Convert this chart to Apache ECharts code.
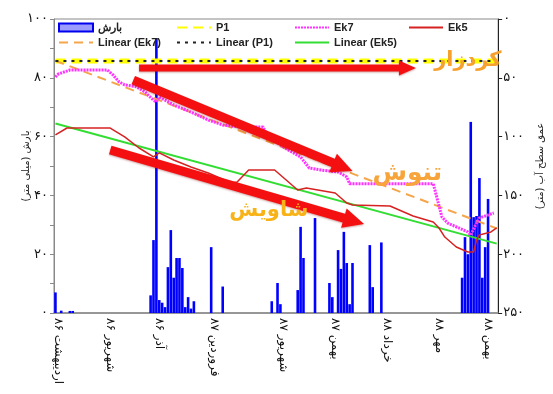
<!DOCTYPE html>
<html><head><meta charset="utf-8">
<script src="https://cdn.jsdelivr.net/npm/echarts@6/dist/echarts.min.js"></script>
<style>html,body{margin:0;padding:0;background:#fff}#c{width:553px;height:394px}</style>
</head><body><div id="c"></div>
<script>
// ---- data (weekly index on x) ----
const N_WEEKS = 154;
const xLabelWeek = [1, 19, 36, 55, 79, 97, 115, 133, 150];
const xLabelText = ['اردیبهشت ۸۶','شهریور ۸۶','آذر ۸۶','فروردین ۸۷','شهریور ۸۷','بهمن ۸۷','خرداد ۸۸','مهر ۸۸','بهمن ۸۸'];

const rainWeek = [0,2,5,6,33,34,35,36,37,38,39,40,41,42,43,44,45,46,47,48,54,58,75,77,78,84,85,86,90,95,96,98,99,100,101,102,103,109,110,113,141,142,143,144,145,146,147,148,149,150];
const rainMm   = [7,0.8,0.7,0.7,6,24.8,93.5,4.4,3.5,2,15.6,28.2,12,18.7,18.7,15.3,2,5.4,1.5,4,22.4,9,4,10.2,3,7.8,29.3,18.7,32.3,10.2,5.4,21.4,15,27.6,17,3,17,23.1,8.8,24,12,25.8,20,65,32.6,33,45.9,12,22.4,38.8];

const ek7Week  = [0,1,5,18,20,22,24,28,31,34,35,36,41,47,53,58,64,72,73,79,85,88,92,98,101,102,131,134,136,143,144,146,147,152];
const ek7Depth = [49.3,46.8,43.4,43.4,47.6,53.3,56,57.6,62,69,70.6,66.3,73.1,79.1,85.9,90.1,91.8,91.8,96.9,108.8,117.3,126.7,128.4,130.1,134.3,140,140,168.4,173.5,181.1,183.7,173.5,169.2,165];

const ek5Week  = [0,4,19,24,29,34,36,41,47,53,61,63,67,76,84,87,97,101,103,116,124,131,133,135,139,143,145,146,147,151,153];
const ek5Depth = [98.6,92.7,92.7,100.3,109.7,117.3,113.9,119.9,125.8,131,139.4,138.6,128.4,128.4,145.4,143.7,148,156.5,158.2,159,167.5,172.6,177.7,185.4,193.9,198.1,198.1,187.9,183.7,181.1,177.7];

const p1Week = [0, 153];
const p1Depth = [35.7, 35.7];
const linP1Week = [0, 153];
const linP1Depth = [35.7, 35.7];
const linEk7Week = [0, 153];
const linEk7Depth = [35.5, 178.1];
const linEk5Week = [0, 153];
const linEk5Depth = [88.8, 191];

// annotations (data units: week, depth)
const arrowFrom = [[29, 41.7], [27, 51.9], [19, 111.4]];
const arrowTo   = [[125, 41.7], [103, 129.2], [107, 174.3]];
const noteText = ['کردزار', 'تنوش', 'شاویش'];
const notePos  = [[143, 35], [122, 131], [74, 163]];

// ---- helpers ----
const zip = (a, b) => a.map((v, i) => [v, b[i]]);
const fa = v => String(v).replace(/\d/g, d => '۰۱۲۳۴۵۶۷۸۹'[d]);
const categories = Array.from({length: N_WEEKS}, (_, i) => String(i));
const labelMap = {};
xLabelWeek.forEach((w, i) => labelMap[w] = xLabelText[i]);

const chart = echarts.init(document.getElementById('c'), null, {renderer: 'canvas'});
const legendText = {fontFamily: 'Liberation Sans', fontWeight: 'bold', fontSize: 11, color: '#222'};
const legendBase = {orient: 'vertical', top: 22, itemWidth: 34, itemHeight: 8, itemGap: 4, textStyle: legendText, padding: 0,
  itemStyle: {opacity: 0}};
const lineItem = n => ({name: n, itemStyle: {opacity: 0}});

const option = {
  animation: false,
  backgroundColor: '#fff',
  grid: {left: 54, right: 38, top: 19, bottom: 81, show: true, borderColor: '#888', borderWidth: 1},
  legend: [
    Object.assign({}, legendBase, {left: 58, data: [{name: 'بارش', icon: 'rect', itemStyle: {opacity: 1, color: '#9c9cff', borderColor: '#0000ee', borderWidth: 2}}, lineItem('Linear (Ek7)')]}),
    Object.assign({}, legendBase, {left: 176, data: [lineItem('P1'), lineItem('Linear (P1)')]}),
    Object.assign({}, legendBase, {left: 294, data: [lineItem('Ek7'), lineItem('Linear (Ek5)')]}),
    Object.assign({}, legendBase, {left: 408, data: [lineItem('Ek5')]})
  ],
  xAxis: {
    type: 'category', data: categories, boundaryGap: true,
    axisLine: {lineStyle: {color: '#888', width: 1.5}},
    axisTick: {show: false},
    axisLabel: {interval: 0, rotate: -90, margin: 5, fontSize: 12, fontFamily: 'DejaVu Sans', color: '#111',
      formatter: (v, i) => labelMap[i] || ''}
  },
  yAxis: [
    {type: 'value', min: 0, max: 100, interval: 20, position: 'left',
     name: 'بارش (میلی متر)', nameLocation: 'middle', nameRotate: 90, nameGap: 23, nameMoveOverlap: false,
     nameTextStyle: {fontSize: 10, fontFamily: 'DejaVu Sans', color: '#222'},
     axisLine: {show: true, lineStyle: {color: '#888'}},
     axisTick: {show: true, length: 4, lineStyle: {color: '#888'}},
     minorTick: {show: true, splitNumber: 2, length: 4, lineStyle: {color: '#888'}},
     splitLine: {show: false},
     axisLabel: {fontSize: 13, fontFamily: 'DejaVu Sans', color: '#111', margin: 6, formatter: v => fa(v)}},
    {type: 'value', min: 0, max: 250, interval: 50, inverse: true, position: 'right',
     name: 'عمق سطح آب (متر)', nameLocation: 'middle', nameRotate: 90, nameGap: 30,
     nameTextStyle: {fontSize: 10, fontFamily: 'DejaVu Sans', color: '#222'},
     axisLine: {show: true, lineStyle: {color: '#222'}},
     axisTick: {show: true, length: 4, lineStyle: {color: '#222'}},
     splitLine: {show: false},
     axisLabel: {fontSize: 13, fontFamily: 'DejaVu Sans', color: '#111', margin: 5, formatter: v => fa(v)}}
  ],
  series: [
    {name: 'بارش', type: 'bar', yAxisIndex: 0, data: zip(rainWeek, rainMm), barWidth: '90%', barGap: '-100%',
     itemStyle: {color: '#0000ff'}, z: 2},
    {name: 'P1', type: 'line', yAxisIndex: 1, data: zip(p1Week, p1Depth), symbol: 'none',
     lineStyle: {color: '#ffff00', width: 5, type: [10, 6]}, itemStyle: {color: '#ffff00'}, z: 3},
    {name: 'Linear (P1)', type: 'line', yAxisIndex: 1, data: zip(linP1Week, linP1Depth), symbol: 'none',
     lineStyle: {color: '#222', width: 2, type: [3, 5]}, itemStyle: {color: '#222'}, z: 4},
    {name: 'Linear (Ek7)', type: 'line', yAxisIndex: 1, data: zip(linEk7Week, linEk7Depth), symbol: 'none',
     lineStyle: {color: '#f5a54a', width: 2, type: [9, 6]}, itemStyle: {color: '#f5a54a'}, z: 3},
    {name: 'Ek7', type: 'line', yAxisIndex: 1, data: zip(ek7Week, ek7Depth), symbol: 'none',
     lineStyle: {color: '#ff33ff', width: 3, type: [2, 1]}, itemStyle: {color: '#ff33ff'}, z: 4},
    {name: 'Linear (Ek5)', type: 'line', yAxisIndex: 1, data: zip(linEk5Week, linEk5Depth), symbol: 'none',
     lineStyle: {color: '#33dd33', width: 2}, itemStyle: {color: '#33dd33'}, z: 3},
    {name: 'Ek5', type: 'line', yAxisIndex: 1, data: zip(ek5Week, ek5Depth), symbol: 'none',
     lineStyle: {color: '#d62222', width: 1.5}, itemStyle: {color: '#d62222'}, z: 4}
  ]
};
chart.setOption(option);

// ---- annotations anchored through the axes ----
function arrowPts(a, b, sw, hw, hl) {
  const dx = b[0] - a[0], dy = b[1] - a[1];
  const L = Math.hypot(dx, dy), ux = dx / L, uy = dy / L, nx = -uy, ny = ux;
  const bx = b[0] - ux * hl, by = b[1] - uy * hl;
  return [[a[0] + nx * sw, a[1] + ny * sw], [bx + nx * sw, by + ny * sw], [bx + nx * hw, by + ny * hw], b,
          [bx - nx * hw, by - ny * hw], [bx - nx * sw, by - ny * sw], [a[0] - nx * sw, a[1] - ny * sw]];
}
const toPx = p => chart.convertToPixel({xAxisIndex: 0, yAxisIndex: 1}, p);
const graphics = [];
const arrowSize = [[3.5, 7.5, 17], [4.5, 10, 21], [4.5, 10, 21]];
arrowFrom.forEach((f, i) => {
  const a = toPx(f), b = toPx(arrowTo[i]);
  const s = arrowSize[i];
  graphics.push({type: 'polygon', z: 100, shape: {points: arrowPts(a, b, s[0], s[1], s[2])},
    style: {fill: '#f41010', shadowBlur: 2, shadowColor: 'rgba(120,0,0,0.35)', shadowOffsetY: 1}});
});
const noteFont = ['bold 21px "DejaVu Sans"', 'bold 25px "DejaVu Sans"', 'bold 21px "DejaVu Sans"'];
const noteFill = ['#f6a12e', '#f7a43a', '#f7b318'];
noteText.forEach((t, i) => {
  const p = toPx(notePos[i]);
  graphics.push({type: 'text', z: 101, x: p[0], y: p[1],
    style: {text: t, font: noteFont[i], fill: noteFill[i], align: 'center', verticalAlign: 'middle',
      shadowBlur: 2, shadowColor: 'rgba(160,80,0,0.35)', shadowOffsetX: 1, shadowOffsetY: 1}});
});
chart.setOption({graphic: graphics});
</script>
</body></html>
